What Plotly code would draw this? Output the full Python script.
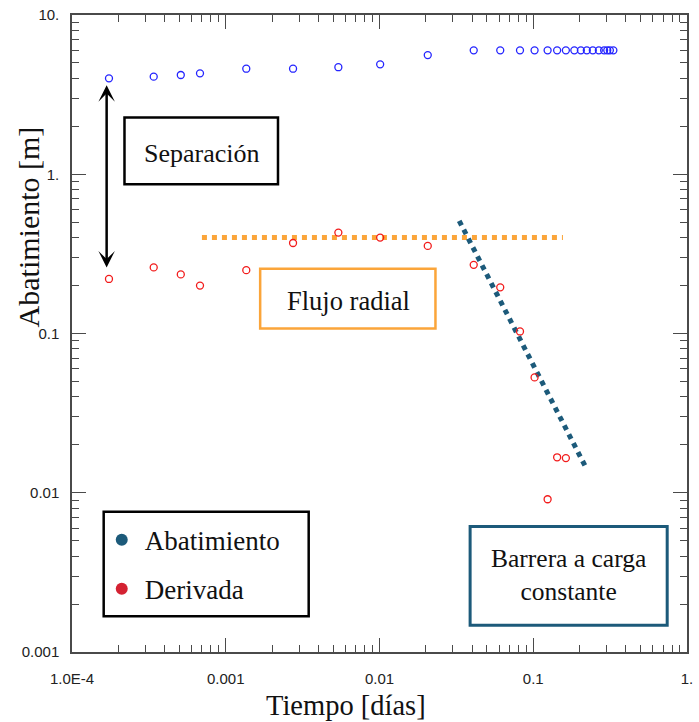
import math
import plotly.graph_objects as go

# Tiempo de bombeo [días] y respuestas medidas
tiempo = [1.74e-4, 3.4e-4, 5.1e-4, 6.8e-4, 1.36e-3, 2.74e-3, 5.4e-3, 0.0101, 0.0206,
          0.041, 0.061, 0.082, 0.102, 0.124, 0.143, 0.163, 0.185, 0.204, 0.223,
          0.244, 0.267, 0.289, 0.303, 0.315, 0.332]
abatimiento = [4.0, 4.1, 4.2, 4.3, 4.6, 4.6, 4.7, 4.9, 5.6,
               6.0, 6.0, 6.0, 6.0, 6.0, 6.0, 6.0, 6.0, 6.0, 6.0,
               6.0, 6.0, 6.0, 6.0, 6.0, 6.0]
derivada = [0.22, 0.26, 0.235, 0.20, 0.25, 0.37, 0.43, 0.40, 0.355,
            0.27, 0.195, 0.103, 0.053, 0.0091, 0.0167, 0.0165]

# Rectas de diagnóstico
flujo_t = [7.0e-4, 0.156]
flujo_s = [0.40, 0.40]
barrera_t = [0.033, 0.22]
barrera_s = [0.51, 0.0144]

# Flecha de separación (tiempo, extremo superior, extremo inferior)
sep_t = 1.68e-4
sep_sup = 3.7
sep_inf = 0.26

x_ticks = [1e-4, 1e-3, 1e-2, 1e-1, 1]
x_ticktext = ["1.0E-4", "0.001", "0.01", "0.1", "1."]
y_ticks = [1e-3, 1e-2, 1e-1, 1, 10]
y_ticktext = ["0.001", "0.01", "0.1", "1.", "10."]

AZUL = "#2424ff"
ROJO = "#f21b1b"
NARANJA = "#fba53a"
PETROLEO = "#1c5a7a"
SERIF = "Liberation Serif"
SANS = "Liberation Sans"
EJE = "#4a4a4a"

W, H = 699, 722
ML, MR, MT, MB = 72, 6, 12, 70
PW, PH = W - ML - MR, H - MT - MB


def px(x):
    return (x - ML) / PW


def py(y):
    return (H - MB - y) / PH


fig = go.Figure()

fig.add_trace(go.Scatter(
    x=flujo_t, y=flujo_s, mode="lines", showlegend=False, hoverinfo="skip",
    line=dict(color=NARANJA, width=5, dash="dot")))
fig.add_trace(go.Scatter(
    x=barrera_t, y=barrera_s, mode="lines", showlegend=False, hoverinfo="skip",
    line=dict(color=PETROLEO, width=5, dash="dot")))

fig.add_trace(go.Scatter(
    x=tiempo, y=abatimiento, mode="markers", name="Abatimiento", showlegend=False,
    marker=dict(symbol="circle-open", size=7, color=AZUL, line=dict(width=1.3, color=AZUL))))
fig.add_trace(go.Scatter(
    x=tiempo[:len(derivada)], y=derivada, mode="markers", name="Derivada", showlegend=False,
    marker=dict(symbol="circle-open", size=7, color=ROJO, line=dict(width=1.3, color=ROJO))))

# Entradas de la leyenda
fig.add_trace(go.Scatter(x=[None], y=[None], mode="markers", name="Abatimiento",
                         legendgroup="a", marker=dict(size=9, color=PETROLEO)))
fig.add_trace(go.Scatter(x=[None], y=[None], mode="markers", name="Derivada",
                         legendgroup="d", marker=dict(size=9, color="#d42232")))

eje = dict(
    type="log", showgrid=False, zeroline=False,
    showline=True, linecolor=EJE, linewidth=1.5, mirror="allticks",
    ticks="inside", ticklen=14, tickwidth=1.3, tickcolor=EJE,
    tickfont=dict(family=SANS, size=15, color="#222"),
)

fig.update_xaxes(**eje, range=[-4, 0], tickvals=x_ticks, ticktext=x_ticktext,
                 ticklabelstandoff=12,
                 minor=dict(tickvals=[m * 10 ** e for e in range(-4, 0) for m in range(2, 10)],
                            ticks="inside", ticklen=7, tickwidth=1.2, tickcolor=EJE))
fig.update_yaxes(**eje, range=[-3, 1], tickvals=y_ticks, ticktext=y_ticktext,
                 ticklabelstandoff=8,
                 minor=dict(tickvals=[m * 10 ** e for e in range(-3, 1) for m in range(2, 10)],
                            ticks="inside", ticklen=7, tickwidth=1.2, tickcolor=EJE))

shapes = [
    # Recuadro de la leyenda
    dict(type="rect", xref="paper", yref="paper", x0=px(104), x1=px(311), y0=py(616), y1=py(511),
         line=dict(color="black", width=2.5), fillcolor="white", layer="below"),
    dict(type="rect", xref="paper", yref="paper", x0=px(125), x1=px(280), y0=py(182), y1=py(115),
         line=dict(color="black", width=2.5), fillcolor="white"),
    dict(type="rect", xref="paper", yref="paper", x0=px(262), x1=px(439), y0=py(327), y1=py(267),
         line=dict(color=NARANJA, width=2.5), fillcolor="rgba(0,0,0,0)"),
    dict(type="rect", xref="paper", yref="paper", x0=px(474), x1=px(673), y0=py(625), y1=py(526),
         line=dict(color=PETROLEO, width=3), fillcolor="white"),
]


def texto(t, x, y, size, **kw):
    return dict(text=t, xref="paper", yref="paper", x=px(x), y=py(y),
                xanchor="center", yanchor="middle", showarrow=False,
                font=dict(family=SERIF, size=size, color="#111"), **kw)


annotations = [
    texto("Separación", 203, 151, 26),
    texto("Flujo radial", 351.5, 299, 26.5),
    texto("Barrera a carga<br>constante", 573.5, 575, 25.5),
    texto("Tiempo [días]", 349, 706, 28.5),
    texto("Abatimiento [m]", 28, 225, 30, textangle=-90),
    dict(text="", xref="x", yref="y", axref="x", ayref="y",
         x=math.log10(sep_t), y=math.log10(sep_inf),
         ax=math.log10(sep_t), ay=math.log10(sep_sup),
         showarrow=True, arrowside="end+start", arrowhead=3, startarrowhead=3,
         arrowsize=1.1, startarrowsize=1.1, arrowwidth=2.5, arrowcolor="black",
         standoff=0, startstandoff=0),
]

fig.update_layout(
    width=W, height=H, margin=dict(l=ML, r=MR, t=MT, b=MB),
    plot_bgcolor="white", paper_bgcolor="white",
    shapes=shapes, annotations=annotations,
    legend=dict(x=px(99), y=py(515), xanchor="left", yanchor="top",
                borderwidth=0, bgcolor="rgba(0,0,0,0)",
                font=dict(family=SERIF, size=27, color="#111"),
                tracegroupgap=11, itemsizing="constant", itemwidth=36),
)

fig.write_html("out.html")
